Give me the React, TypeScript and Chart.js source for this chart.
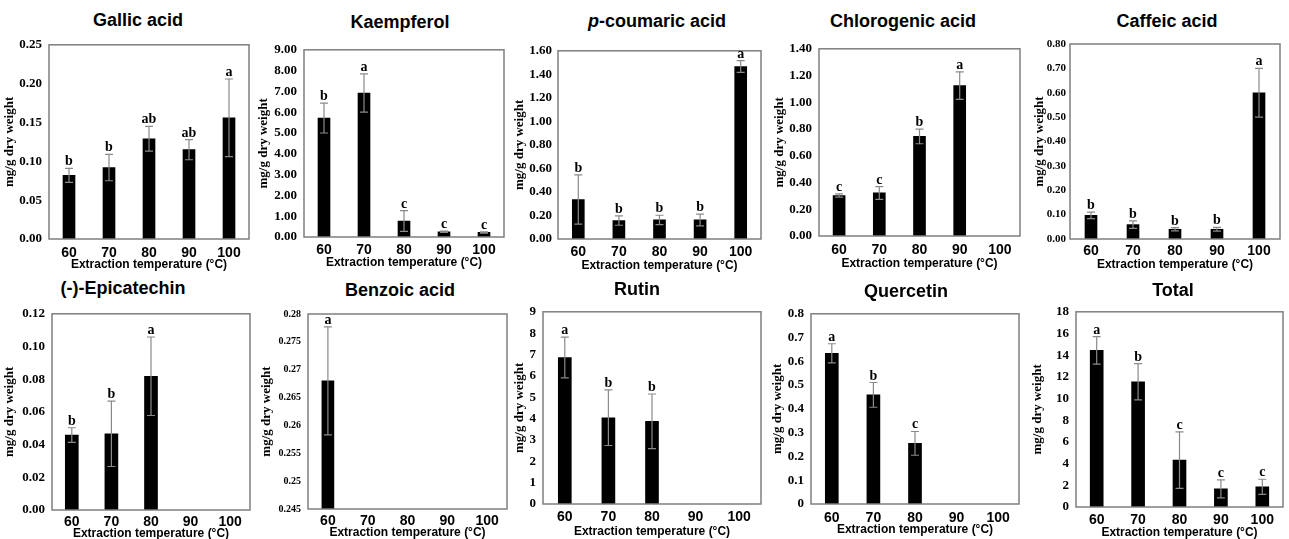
import React, { useEffect, useRef } from "react";
import { Chart, registerables } from "chart.js";

Chart.register(...registerables);

// ---------------- data ----------------
const CATEGORIES = ["60", "70", "80", "90", "100"];
const X_TITLE = "Extraction temperature (°C)";
const Y_TITLE = "mg/g dry weight";

const GALLIC_MEANS = [0.082, 0.092, 0.129, 0.115, 0.156];
const GALLIC_ERRS = [0.009, 0.017, 0.016, 0.013, 0.05];
const GALLIC_LETTERS = ["b", "b", "ab", "ab", "a"];
const GALLIC_TICKS = ["0.00", "0.05", "0.10", "0.15", "0.20", "0.25"];

const KAEMPFEROL_MEANS = [5.72, 6.92, 0.77, 0.25, 0.22];
const KAEMPFEROL_ERRS = [0.72, 0.92, 0.5, 0.03, 0.03];
const KAEMPFEROL_LETTERS = ["b", "a", "c", "c", "c"];
const KAEMPFEROL_TICKS = ["0.00", "1.00", "2.00", "3.00", "4.00", "5.00", "6.00", "7.00", "8.00", "9.00"];

const COUMARIC_MEANS = [0.336, 0.157, 0.162, 0.162, 1.466];
const COUMARIC_ERRS = [0.21, 0.04, 0.04, 0.05, 0.05];
const COUMARIC_LETTERS = ["b", "b", "b", "b", "a"];
const COUMARIC_TICKS = ["0.00", "0.20", "0.40", "0.60", "0.80", "1.00", "1.20", "1.40", "1.60"];

const CHLOROGENIC_MEANS = [0.303, 0.322, 0.745, 1.125, null];
const CHLOROGENIC_ERRS = [0.012, 0.048, 0.055, 0.103, null];
const CHLOROGENIC_LETTERS = ["c", "c", "b", "a", ""];
const CHLOROGENIC_TICKS = ["0.00", "0.20", "0.40", "0.60", "0.80", "1.00", "1.20", "1.40"];

const CAFFEIC_MEANS = [0.097, 0.059, 0.04, 0.04, 0.6];
const CAFFEIC_ERRS = [0.013, 0.015, 0.007, 0.008, 0.1];
const CAFFEIC_LETTERS = ["b", "b", "b", "b", "a"];
const CAFFEIC_TICKS = ["0.00", "0.10", "0.20", "0.30", "0.40", "0.50", "0.60", "0.70", "0.80"];

const EPICATECHIN_MEANS = [0.0458, 0.0466, 0.0818, null, null];
const EPICATECHIN_ERRS = [0.0045, 0.02, 0.024, null, null];
const EPICATECHIN_LETTERS = ["b", "b", "a", "", ""];
const EPICATECHIN_TICKS = ["0.00", "0.02", "0.04", "0.06", "0.08", "0.10", "0.12"];

const BENZOIC_MEANS = [0.268, null, null, null, null];
const BENZOIC_ERRS = [0.0097, null, null, null, null];
const BENZOIC_LETTERS = ["a", "", "", "", ""];
const BENZOIC_TICKS = ["0.245", "0.25", "0.255", "0.26", "0.265", "0.27", "0.275", "0.28"];

const RUTIN_MEANS = [6.86, 4.04, 3.87, null, null];
const RUTIN_ERRS = [0.95, 1.3, 1.28, null, null];
const RUTIN_LETTERS = ["a", "b", "b", "", ""];
const RUTIN_TICKS = ["0", "1", "2", "3", "4", "5", "6", "7", "8", "9"];

const QUERCETIN_MEANS = [0.634, 0.459, 0.255, null, null];
const QUERCETIN_ERRS = [0.04, 0.052, 0.05, null, null];
const QUERCETIN_LETTERS = ["a", "b", "c", "", ""];
const QUERCETIN_TICKS = ["0", "0.1", "0.2", "0.3", "0.4", "0.5", "0.6", "0.7", "0.8"];

const TOTAL_MEANS = [14.44, 11.55, 4.32, 1.67, 1.86];
const TOTAL_ERRS = [1.27, 1.67, 2.6, 0.83, 0.7];
const TOTAL_LETTERS = ["a", "b", "c", "c", "c"];
const TOTAL_TICKS = ["0", "2", "4", "6", "8", "10", "12", "14", "16", "18"];

// ---------------- layout (page pixels) ----------------
type Layout = {
  left: number; top: number; right: number; bottom: number;
  yTitleX: number; bar: number; xLab: number; xTit: number;
  titleX: number; titleY: number; yFs: number; yPad: number;
};

type PanelDef = {
  title: string;
  italicPrefix?: string;
  means: (number | null)[];
  errs: (number | null)[];
  letters: string[];
  ticks: string[];
  layout: Layout;
};

const PANELS: PanelDef[] = [
  { title: "Gallic acid", means: GALLIC_MEANS, errs: GALLIC_ERRS, letters: GALLIC_LETTERS, ticks: GALLIC_TICKS,
    layout: { left: 49, top: 42, right: 249, bottom: 239, yTitleX: 10, bar: 12, xLab: 14, xTit: 25, titleX: 138, titleY: 20, yFs: 13, yPad: 7 } },
  { title: "Kaempferol", means: KAEMPFEROL_MEANS, errs: KAEMPFEROL_ERRS, letters: KAEMPFEROL_LETTERS, ticks: KAEMPFEROL_TICKS,
    layout: { left: 304, top: 47, right: 504, bottom: 237, yTitleX: 264, bar: 12, xLab: 13, xTit: 25, titleX: 400, titleY: 22, yFs: 13, yPad: 7 } },
  { title: "-coumaric acid", italicPrefix: "p", means: COUMARIC_MEANS, errs: COUMARIC_ERRS, letters: COUMARIC_LETTERS, ticks: COUMARIC_TICKS,
    layout: { left: 558, top: 49, right: 761, bottom: 239, yTitleX: 520, bar: 12, xLab: 13, xTit: 26, titleX: 657, titleY: 21, yFs: 13, yPad: 6 } },
  { title: "Chlorogenic acid", means: CHLOROGENIC_MEANS, errs: CHLOROGENIC_ERRS, letters: CHLOROGENIC_LETTERS, ticks: CHLOROGENIC_TICKS,
    layout: { left: 819, top: 46, right: 1020, bottom: 236, yTitleX: 780, bar: 12, xLab: 14, xTit: 27, titleX: 903, titleY: 21, yFs: 13, yPad: 7 } },
  { title: "Caffeic acid", means: CAFFEIC_MEANS, errs: CAFFEIC_ERRS, letters: CAFFEIC_LETTERS, ticks: CAFFEIC_TICKS,
    layout: { left: 1070, top: 44, right: 1280, bottom: 239, yTitleX: 1040, bar: 12, xLab: 12, xTit: 25, titleX: 1167, titleY: 21, yFs: 11, yPad: 4 } },
  { title: "(-)-Epicatechin", means: EPICATECHIN_MEANS, errs: EPICATECHIN_ERRS, letters: EPICATECHIN_LETTERS, ticks: EPICATECHIN_TICKS,
    layout: { left: 52, top: 311, right: 250, bottom: 510, yTitleX: 10, bar: 13, xLab: 12, xTit: 23, titleX: 123, titleY: 288, yFs: 13, yPad: 7 } },
  { title: "Benzoic acid", means: BENZOIC_MEANS, errs: BENZOIC_ERRS, letters: BENZOIC_LETTERS, ticks: BENZOIC_TICKS,
    layout: { left: 308, top: 313, right: 507, bottom: 509, yTitleX: 267, bar: 12, xLab: 12, xTit: 23, titleX: 400, titleY: 290, yFs: 10, yPad: 7 } },
  { title: "Rutin", means: RUTIN_MEANS, errs: RUTIN_ERRS, letters: RUTIN_LETTERS, ticks: RUTIN_TICKS,
    layout: { left: 543, top: 309, right: 761, bottom: 504, yTitleX: 520, bar: 13, xLab: 13, xTit: 27, titleX: 637, titleY: 289, yFs: 13, yPad: 7 } },
  { title: "Quercetin", means: QUERCETIN_MEANS, errs: QUERCETIN_ERRS, letters: QUERCETIN_LETTERS, ticks: QUERCETIN_TICKS,
    layout: { left: 811, top: 311, right: 1019, bottom: 504, yTitleX: 778, bar: 13, xLab: 14, xTit: 25, titleX: 906, titleY: 291, yFs: 13, yPad: 7 } },
  { title: "Total", means: TOTAL_MEANS, errs: TOTAL_ERRS, letters: TOTAL_LETTERS, ticks: TOTAL_TICKS,
    layout: { left: 1076, top: 309, right: 1283, bottom: 507, yTitleX: 1038, bar: 13, xLab: 13, xTit: 25, titleX: 1173, titleY: 290, yFs: 13, yPad: 7 } },
];

const SERIF = "'Liberation Serif', 'Times New Roman', serif";
const SANS = "'Liberation Sans', Arial, sans-serif";
const Y_TITLE_SIZE = 13;

function makeDecorPlugin(errs: (number | null)[], letters: string[]) {
  return {
    id: "decor",
    afterDatasetsDraw(chart: any) {
      const ctx = chart.ctx;
      const area = chart.chartArea;
      const y = chart.scales.y;
      const meta = chart.getDatasetMeta(0);
      const values = chart.data.datasets[0].data as (number | null)[];
      ctx.save();
      ctx.strokeStyle = "#7f7f7f";
      ctx.lineWidth = 1.5;
      ctx.strokeRect(area.left, area.top, area.right - area.left, area.bottom - area.top);
      values.forEach((v, i) => {
        if (v === null || v === undefined) return;
        const e = errs[i] ?? 0;
        const el = meta.data[i];
        if (!el) return;
        const x = el.x;
        const yTop = y.getPixelForValue(v + e);
        const yBot = y.getPixelForValue(v - e);
        ctx.strokeStyle = "#8a8a8a";
        ctx.lineWidth = 1.2;
        ctx.beginPath();
        ctx.moveTo(x, yTop);
        ctx.lineTo(x, yBot);
        ctx.moveTo(x - 4, yTop);
        ctx.lineTo(x + 4, yTop);
        ctx.moveTo(x - 4, yBot);
        ctx.lineTo(x + 4, yBot);
        ctx.stroke();
        const letter = letters[i];
        if (letter) {
          ctx.fillStyle = "#000";
          ctx.font = `bold 14px ${SERIF}`;
          ctx.textAlign = "center";
          ctx.textBaseline = "alphabetic";
          ctx.fillText(letter, x, yTop - 3);
        }
      });
      ctx.restore();
    },
  };
}

function Panel({ p }: { p: PanelDef }) {
  const ref = useRef<HTMLCanvasElement>(null);
  const L = p.layout;
  const cLeft = Math.round(L.yTitleX - (Y_TITLE_SIZE * 1.2) / 2);
  const cTop = Math.round(L.top - 12);
  const cRight = Math.round(L.right + 6);
  const cBottom = Math.round(L.bottom + L.xTit + 8);
  const W = cRight - cLeft;
  const H = cBottom - cTop;
  const yW = L.left - cLeft;
  const xH = cBottom - L.bottom;
  const padTop = L.top - cTop;
  const padRight = cRight - L.right;

  useEffect(() => {
    if (!ref.current) return;
    const tickVals = p.ticks.map((t) => parseFloat(t));
    const chart = new Chart(ref.current, {
      type: "bar",
      data: {
        labels: CATEGORIES,
        datasets: [
          {
            data: p.means as any,
            backgroundColor: "#000",
            borderWidth: 0,
            barThickness: L.bar,
          },
        ],
      },
      options: {
        animation: false,
        responsive: false,
        maintainAspectRatio: false,
        devicePixelRatio: 1,
        layout: { padding: { top: padTop, right: padRight, left: 0, bottom: 0 } },
        plugins: {
          legend: { display: false },
          tooltip: { enabled: false },
          title: { display: false },
        },
        scales: {
          x: {
            grid: { display: false, drawTicks: false },
            border: { display: false },
            ticks: {
              color: "#000",
              font: { family: SANS, size: 14, weight: "bold" },
              padding: L.xLab - 8.4,
              maxRotation: 0,
              autoSkip: false,
            },
            title: {
              display: true,
              text: X_TITLE,
              color: "#000",
              font: { family: SANS, size: 12, weight: "bold" },
              padding: 0,
            },
            afterFit: (s: any) => {
              s.height = xH;
            },
          },
          y: {
            min: tickVals[0],
            max: tickVals[tickVals.length - 1],
            grid: { display: false, drawTicks: false },
            border: { display: false },
            ticks: {
              color: "#000",
              font: { family: SERIF, size: L.yFs, weight: "bold" },
              padding: L.yPad,
              callback: (_v: any, i: number) => p.ticks[i],
            },
            afterBuildTicks: (s: any) => {
              s.ticks = tickVals.map((v) => ({ value: v }));
            },
            title: {
              display: true,
              text: Y_TITLE,
              color: "#000",
              font: { family: SERIF, size: Y_TITLE_SIZE, weight: "bold" },
              padding: 0,
            },
            afterFit: (s: any) => {
              s.width = yW;
            },
          },
        },
      } as any,
      plugins: [makeDecorPlugin(p.errs, p.letters)],
    });
    return () => chart.destroy();
  }, []);

  return (
    <>
      <canvas
        ref={ref}
        width={W}
        height={H}
        style={{ position: "absolute", left: cLeft, top: cTop, width: W, height: H }}
      />
      <div
        style={{
          position: "absolute",
          left: L.titleX,
          top: L.titleY,
          transform: "translate(-50%, -50%)",
          font: `bold 18px ${SANS}`,
          color: "#000",
          whiteSpace: "nowrap",
          lineHeight: "20px",
        }}
      >
        {p.italicPrefix ? <i>{p.italicPrefix}</i> : null}
        {p.title}
      </div>
    </>
  );
}

export default function App() {
  return (
    <div
      style={{
        position: "absolute",
        left: 0,
        top: 0,
        width: 1289,
        height: 539,
        background: "#fff",
        overflow: "hidden",
      }}
    >
      {PANELS.map((p, i) => (
        <Panel key={i} p={p} />
      ))}
    </div>
  );
}
